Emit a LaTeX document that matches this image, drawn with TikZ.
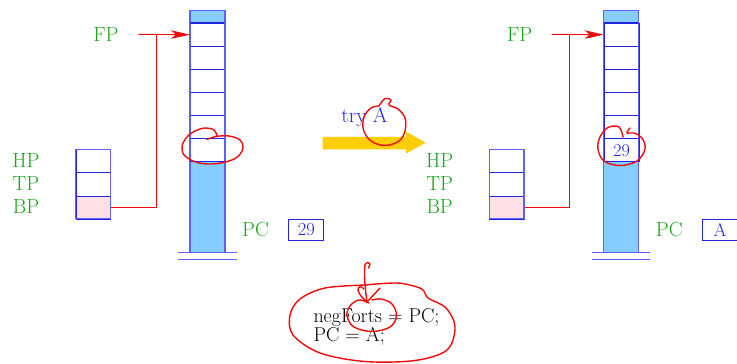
\documentclass[tikz,border=0pt]{standalone}
\usepackage{fontspec}
\setmainfont{Latin Modern Roman}
\usetikzlibrary{arrows.meta}
\definecolor{grn}{RGB}{25,165,25}
\definecolor{blu}{RGB}{35,35,230}
\definecolor{frm}{RGB}{95,95,250}
\definecolor{fillb}{RGB}{135,205,255}
\definecolor{pinkc}{RGB}{255,224,230}
\definecolor{goldc}{RGB}{255,205,0}
\definecolor{redc}{RGB}{240,10,10}
\tikzset{
  cellbox/.style={draw=blu, line width=0.9pt, minimum width=35pt, minimum height=23.1pt, inner sep=0pt, anchor=north west, text=blu, font=\fontsize{18}{20}\selectfont},
  smallcell/.style={draw=blu, line width=0.9pt, minimum width=34.6pt, minimum height=23.1pt, inner sep=0pt, anchor=north west},
  reglabel/.style={text=grn, font=\fontsize{20.5}{22}\selectfont, inner sep=0pt},
  valbox/.style={draw=blu, line width=0.9pt, minimum width=35pt, minimum height=21pt, inner sep=0pt, anchor=north west, text=blu, font=\fontsize{18.5}{20}\selectfont},
  ptr/.style={draw=redc, line width=0.9pt},
  hand/.style={draw=redc, line width=1.4pt, line cap=round, line join=round},
  ground/.style={draw=frm, line width=1.2pt},
  codetext/.style={font=\fontsize{20}{22}\selectfont, anchor=base west, inner sep=0pt}
}
\newcommand{\drawhalf}[3]{%
  \fill[fillb] (190,10.7) rectangle (225,22.7);
  \fill[fillb] (190,161.3) rectangle (225,252.7);
  \node[cellbox] (#1c1) at (190,22.7) {};
  \node[cellbox] (#1c2) at (190,45.8) {};
  \node[cellbox] (#1c3) at (190,68.9) {};
  \node[cellbox] (#1c4) at (190,92.0) {};
  \node[cellbox] (#1c5) at (190,115.1) {};
  \node[cellbox] (#1c6) at (190,138.2) {#2};
  \draw[frm, line width=1.4pt] (190,10.7) rectangle (225,252.7);
  \draw[blu, line width=0.9pt] (190,22.7) -- (225,22.7) (190,161.3) -- (225,161.3);
  \draw[ground] (178.3,252.7) -- (236.5,252.7);
  \draw[ground] (178.3,259.3) -- (236.5,259.3);
  \node[smallcell] (#1hp) at (75.7,149.3) {};
  \node[smallcell] (#1tp) at (75.7,172.4) {};
  \node[smallcell, fill=pinkc] (#1bp) at (75.7,195.5) {};
  \draw[frm, line width=1.3pt] (75.7,149.3) rectangle (110.3,218.6);
  \node[reglabel] (#1hpl) at (26,160.5) {HP};
  \node[reglabel] (#1tpl) at (26,183.5) {TP};
  \node[reglabel] (#1bpl) at (26,206.5) {BP};
  \node[reglabel] (#1fpl) at (106,34.3) {FP};
  \node[reglabel] (#1pcl) at (255.5,229.5) {PC};
  \node[valbox] (#1pc) at (288.3,218.8) {#3};
  \coordinate (#1fs) at (138.3,34.3);
  \coordinate (#1j) at (156,34.3);
  \draw[ptr] (#1bp.east) -| (#1j);
  \draw[ptr, -{Stealth[length=19pt,width=8.5pt,inset=5pt]}] (#1fs) -- (#1c1.west);
}
\begin{document}
\begin{tikzpicture}[x=1pt,y=-1pt]
\useasboundingbox (0,0) rectangle (737,364);
\fill[white] (0,0) rectangle (737,364);
\begin{scope}
  \drawhalf{L}{}{29}
\end{scope}
\begin{scope}[xshift=413.7pt]
  \drawhalf{R}{29}{A}
\end{scope}
% yellow arrow
\fill[goldc] (322.7,136.8) -- (406,136.8) -- (406,131.7) -- (425.7,142.8) -- (406,153.5) -- (406,149.3) -- (322.7,149.3) -- cycle;
\node[text=blu, font=\fontsize{21}{23}\selectfont, anchor=base west, inner sep=0pt] (try) at (341.2,122.3) {try A};
% code
\node[codetext] (code1) at (313.3,322.7) {negForts = PC;};
\node[codetext] (code2) at (313.3,341.2) {PC = A;};
% hand drawn marks
\draw[hand] plot[smooth, tension=0.6] coordinates {(207,139.5) (216,136.5) (229,136) (240,140) (243,148) (236,158) (218,163.5) (199,163) (185,156) (182,147) (186,138) (194,131.5) (205,128) (214,130) (217,135.5)};
\draw[hand] plot[smooth, tension=0.6] coordinates {(623,137) (619,127) (608,127.5) (600,137) (598,149) (604,161) (620,165.5) (637,161) (645,149) (642,138) (634,133) (627,133) (630,128)};
\draw[hand] plot[smooth, tension=0.6] coordinates {(379,106) (385,98.5) (391,100) (389,105) (398,109) (405,118) (405,131) (399,141) (385,145.5) (371,141) (363.5,130) (364,117) (371,108) (379,106)};
\draw[hand] plot[smooth, tension=0.55] coordinates {(365,285) (397,283) (417,287) (424,291) (428,298) (446,308) (455,327) (447,350) (415,360.5) (365,361.5) (320,353) (293,335) (290,315) (300,299) (325,288) (365,285)};
\draw[hand] plot[smooth, tension=0.6] coordinates {(369,303) (359,300) (350,306) (347,316) (354,327) (372,331.5) (390,327) (396.5,316) (392,304) (381,299) (372,300)};
\draw[hand] plot[smooth, tension=0.5] coordinates {(367,302) (365.5,290) (364.5,276) (365,265) (368,262.5) (370,264) (368.5,268)};
\draw[hand] (367,302) -- (380,288);
\draw[hand] plot[smooth, tension=0.6] coordinates {(367,302) (361,296) (358,290) (360,286.5) (364,289)};
\end{tikzpicture}
\end{document}
